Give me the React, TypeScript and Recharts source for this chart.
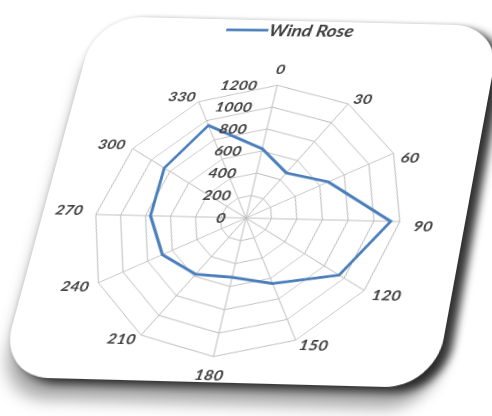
import React from "react";
import { RadarChart, Radar, PolarGrid, PolarAngleAxis, PolarRadiusAxis, Legend } from "recharts";

const directions = ["0", "30", "60", "90", "120", "150", "180", "210", "240", "270", "300", "330"];
const windValues = [620, 470, 670, 1130, 950, 650, 520, 580, 680, 760, 860, 950];
const radiusTicks = [0, 200, 400, 600, 800, 1000, 1200];
const seriesName = "Wind Rose";

const data = directions.map((d, i) => ({ dir: d, value: windValues[i] }));

const FONT = "Lato, 'Open Sans', sans-serif";
const CX = 246;
const CY = 218;
const R = 150;

const RadiusTick = (props: any) => {
  const { x, y, payload } = props;
  return (
    <text x={x - 20} y={y} textAnchor="end" dominantBaseline="central" fontFamily={FONT} fontStyle="italic" fontWeight={700} fontSize={16} fill="#404040">
      {payload.value}
    </text>
  );
};

const AngleTick = (props: any) => {
  const { x, y, payload } = props;
  const dx = x - CX;
  const dy = y - CY;
  const len = Math.sqrt(dx * dx + dy * dy) || 1;
  const s = dx / len;
  const c = -dy / len;
  const vx = CX + R * s;
  const vy = CY - R * c;
  let tx = vx;
  let ty = vy;
  let anchor: "start" | "end" | "middle" = "middle";
  if (Math.abs(s) < 0.1) {
    ty = vy - Math.sign(c) * 19;
  } else {
    const gap = 4 + 10 * Math.pow(Math.abs(s), 6);
    tx = vx + Math.sign(s) * gap;
    if (c > 0.7) ty = vy - 6;
    else if (s < 0 && c > -0.1) ty = vy - 5;
    else ty = vy + 4;
    anchor = s > 0 ? "start" : "end";
  }
  return (
    <text x={tx} y={ty} textAnchor={anchor} dominantBaseline="central" fontFamily={FONT} fontStyle="italic" fontWeight={700} fontSize={16} fill="#404040">
      {payload.value}
    </text>
  );
};

const LegendContent = () => (
  <div style={{ display: "flex", alignItems: "center", fontFamily: FONT, fontStyle: "italic", fontWeight: 700, fontSize: 19, color: "#404040" }}>
    <svg width={43} height={10}>
      <line x1={0} y1={5} x2={43} y2={5} stroke="#4a7ebb" strokeWidth={3} />
    </svg>
    <span style={{ marginLeft: 1 }}>{seriesName}</span>
  </div>
);

export default function App() {
  return (
    <div style={{ position: "absolute", left: 0, top: 0, width: 492, height: 416, overflow: "hidden", background: "#fff" }}>
      <div
        style={{
          position: "absolute",
          left: 49,
          top: 8,
          width: 420,
          height: 374,
          borderRadius: 48,
          background: "#fff",
          boxShadow: "10px 5px 8px rgba(0,0,0,0.75), 3px 20px 15px rgba(0,0,0,0.35), -1px -1px 4px rgba(0,0,0,0.1)",
          transform: "perspective(1200px) rotateX(14deg) rotate(1.5deg) skewX(-11deg)",
          transformOrigin: "50% 50%",
        }}
      />
      <div
        style={{
          position: "absolute",
          left: 0,
          top: 0,
          width: 492,
          height: 416,
          transform: "perspective(1200px) rotateX(12deg) rotateY(-5deg) matrix(1.017, 0.043, -0.213, 0.92, 0, 0)",
          transformOrigin: `${CX}px ${CY}px`,
        }}
      >
        <RadarChart width={492} height={416} data={data} cx={CX} cy={CY} outerRadius={R} startAngle={90} endAngle={-270}>
          <PolarGrid gridType="polygon" stroke="#bdbdbd" strokeWidth={1} />
          <PolarAngleAxis dataKey="dir" tick={<AngleTick />} tickLine={false} axisLine={false} />
          <PolarRadiusAxis angle={90} domain={[0, 1200]} ticks={radiusTicks as any} tickCount={7} orientation="left" axisLine={false} tickLine={false} tick={<RadiusTick />} />
          <Radar name={seriesName} dataKey="value" stroke="#4a7ebb" strokeWidth={3} fill="none" fillOpacity={0} dot={false} isAnimationActive={false} />
          <Legend verticalAlign="top" content={<LegendContent />} wrapperStyle={{ top: -8, left: 181, width: 180 }} />
        </RadarChart>
      </div>
    </div>
  );
}
